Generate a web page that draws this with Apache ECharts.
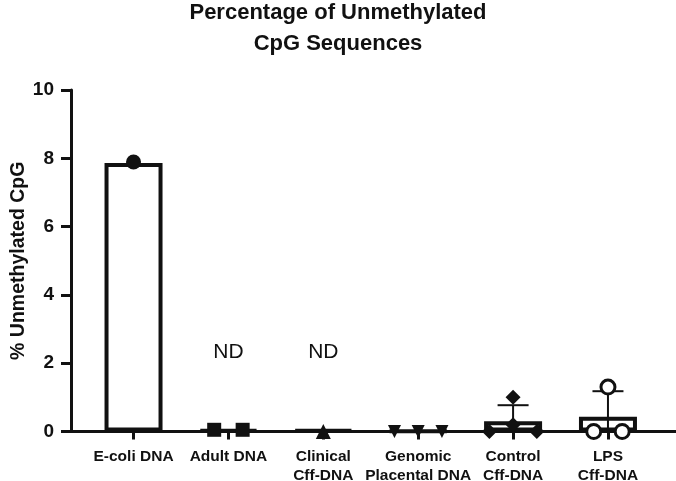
<!DOCTYPE html>
<html>
<head>
<meta charset="utf-8">
<script src="https://cdn.jsdelivr.net/npm/echarts@6/dist/echarts.min.js"></script>
<style>html,body{margin:0;padding:0;background:#fff}#c{width:676px;height:481px}</style>
</head>
<body>
<div id="c"></div>
<script>
// ---- data ----
const categories = ['E-coli DNA', 'Adult DNA', 'Clinical\nCff-DNA', 'Genomic\nPlacental DNA', 'Control\nCff-DNA', 'LPS\nCff-DNA'];
const barValues = [7.86, 0.05, 0.05, 0.02, 0.3, 0.43];
const errorSD = [0, 0, 0, 0, 0.47, 0.75];
const ecoliPoints = [7.89];
const adultPoints = [0.05, 0.05];
const clinicalPoints = [0];
const genomicPoints = [0, 0, 0];
const controlPoints = [0, 0.2, 0, 1.0];
const lpsPoints = [1.3, 0, 0];
const ndCategories = [1, 2];
const ndLevel = 2.33;
const yTicks = [0, 2, 4, 6, 8, 10];

// ---- helpers ----
const FONT = 'Liberation Sans, Arial, sans-serif';
const INK = '#111';
function spread(catIndex, vals) {
  const clusters = [];
  vals.forEach((v, i) => {
    let c = clusters.find(cl => Math.abs(cl.v - v) < 0.25);
    if (!c) { c = { v: v, idx: [] }; clusters.push(c); }
    c.idx.push(i);
  });
  const out = new Array(vals.length);
  clusters.forEach(cl => {
    const m = cl.idx.length;
    cl.idx.forEach((pi, k) => {
      const off = m === 2 ? (k === 0 ? -0.15 : 0.15) : (k - (m - 1) / 2) * 0.25;
      out[pi] = [catIndex + off, vals[pi]];
    });
  });
  return out;
}
function pointSeries(catIndex, vals, symbol, size, itemStyle, extra) {
  return Object.assign({
    type: 'scatter', data: spread(catIndex, vals), symbol: symbol, symbolSize: size,
    itemStyle: Object.assign({ color: INK, opacity: 1 }, itemStyle || {}), z: 5, silent: true, clip: false
  }, extra || {});
}
const errData = [];
errorSD.forEach((s, i) => { if (s > 0) errData.push([i, barValues[i], s]); });

const chart = echarts.init(document.getElementById('c'));
chart.setOption({
  animation: false,
  title: {
    text: 'Percentage of Unmethylated\nCpG Sequences',
    left: 'center', top: -8,
    textStyle: { fontFamily: FONT, fontWeight: 'bold', fontSize: 22, lineHeight: 31, color: INK }
  },
  grid: { left: 71, right: 0, top: 90, bottom: 49.5, containLabel: false, outerBoundsMode: 'none' },
  xAxis: {
    type: 'value', min: -0.659, max: 5.717,
    splitLine: { show: false },
    axisLine: { show: true, onZero: false, lineStyle: { color: INK, width: 3 } },
    axisTick: { show: true, customValues: categories.map((c, i) => i), length: 8, lineStyle: { color: INK, width: 3 } },
    axisLabel: {
      customValues: categories.map((c, i) => i),
      formatter: v => categories[Math.round(v)],
      fontFamily: FONT, fontWeight: 'bold', fontSize: 15.5, lineHeight: 19, color: INK, margin: 16
    }
  },
  yAxis: {
    type: 'value', min: 0, max: 10, interval: 2,
    name: '% Unmethylated CpG', nameLocation: 'middle', nameGap: 42, nameMoveOverlap: false,
    nameTextStyle: { fontFamily: FONT, fontWeight: 'bold', fontSize: 19.5, color: INK },
    splitLine: { show: false },
    axisLine: { show: true, onZero: false, lineStyle: { color: INK, width: 3 } },
    axisTick: { show: true, length: 10, lineStyle: { color: INK, width: 3 } },
    axisLabel: {
      fontFamily: FONT, fontWeight: 'bold', fontSize: 19, color: INK, margin: 17,
      formatter: v => yTicks.includes(v) ? String(v) : ''
    }
  },
  series: [
    {
      type: 'bar', data: barValues.map((v, i) => [i, v]), barWidth: 58,
      itemStyle: { color: '#fff', borderColor: INK, borderWidth: 4 }, z: 2, silent: true
    },
    {
      type: 'custom', z: 4, silent: true, clip: false,
      dimensions: ['x', 'mean', 'sd'], encode: { x: 0, y: 1 },
      data: errData,
      renderItem: function (params, api) {
        const x = api.value(0), m = api.value(1), s = api.value(2);
        const top = api.coord([x, m + s]);
        const bot = api.coord([x, Math.max(0, m - s)]);
        const half = 15.5;
        const style = { stroke: INK, lineWidth: 2 };
        return {
          type: 'group', children: [
            { type: 'line', shape: { x1: top[0], y1: top[1], x2: bot[0], y2: bot[1] }, style: style },
            { type: 'line', shape: { x1: top[0] - half, y1: top[1], x2: top[0] + half, y2: top[1] }, style: style }
          ]
        };
      }
    },
    pointSeries(0, ecoliPoints, 'circle', 15),
    pointSeries(1, adultPoints, 'rect', 14),
    pointSeries(2, clinicalPoints, 'triangle', 15),
    pointSeries(3, genomicPoints, 'triangle', 13, null, { symbolRotate: 180 }),
    pointSeries(4, controlPoints, 'diamond', 15),
    pointSeries(5, lpsPoints, 'circle', 14, { color: '#fff', borderColor: INK, borderWidth: 3 }),
    {
      type: 'scatter', data: ndCategories.map(c => [c, ndLevel]), symbolSize: 1,
      itemStyle: { color: 'rgba(0,0,0,0)', opacity: 1 }, silent: true, z: 6,
      label: { show: true, position: 'inside', formatter: 'ND', fontFamily: FONT, fontSize: 21, color: INK, opacity: 1 }
    }
  ]
});
</script>
</body>
</html>
